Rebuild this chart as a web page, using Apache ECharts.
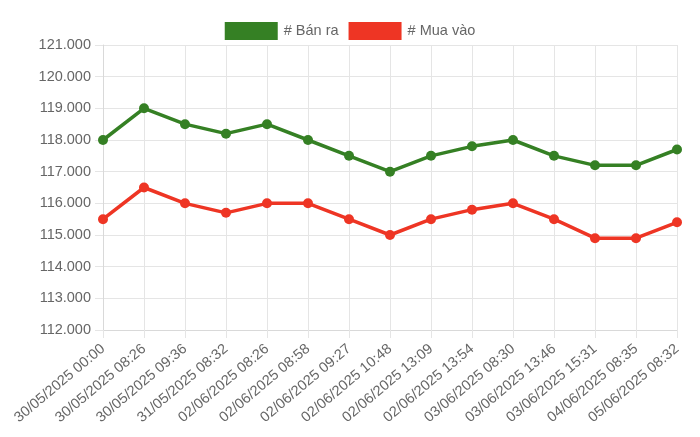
<!DOCTYPE html>
<html>
<head>
<meta charset="utf-8">
<script src="https://cdn.jsdelivr.net/npm/echarts@6/dist/echarts.min.js"></script>
<style>html,body{margin:0;padding:0;background:#fff;}#c{width:700px;height:437px;}</style>
</head>
<body>
<div id="c"></div>
<script>
var categories = ["30/05/2025 00:00","30/05/2025 08:26","30/05/2025 09:36","31/05/2025 08:32","02/06/2025 08:26","02/06/2025 08:58","02/06/2025 09:27","02/06/2025 10:48","02/06/2025 13:09","02/06/2025 13:54","03/06/2025 08:30","03/06/2025 13:46","03/06/2025 15:31","04/06/2025 08:35","05/06/2025 08:32"];
var banRa = [118000,119000,118500,118200,118500,118000,117500,117000,117500,117800,118000,117500,117200,117200,117700];
var muaVao = [115500,116500,116000,115700,116000,116000,115500,115000,115500,115800,116000,115500,114900,114900,115400];
var seriesNames = ["# Bán ra", "# Mua vào"];
var colors = ["#358024", "#ee3524"];

function fmt(v){ return String(v).replace(/\B(?=(\d{3})+(?!\d))/g, "."); }

var chart = echarts.init(document.getElementById('c'));
var font = "'Liberation Sans', Arial, Helvetica, sans-serif";
function mk(name, data, color){
  return {
    name: name, type: 'line', data: data,
    symbol: 'circle', symbolSize: 10,
    itemStyle: {color: color},
    lineStyle: {color: color, width: 3.5},
    emphasis: {disabled: true}
  };
}
chart.setOption({
  animation: false,
  color: colors,
  textStyle: {fontFamily: font},
  legend: {
    top: 17, left: 'center',
    itemWidth: 53, itemHeight: 18, itemGap: 10,
    icon: 'rect',
    textStyle: {color: '#666', fontSize: 14.5, fontFamily: font, padding: [0,0,0,1]},
    data: seriesNames
  },
  grid: {left: 103, right: 23, top: 45, bottom: 107, containLabel: false},
  xAxis: {
    type: 'category', data: categories, boundaryGap: false,
    axisLine: {show: true, lineStyle: {color: '#d9d9d9', width: 1}},
    axisTick: {show: true, length: 8, alignWithLabel: true, lineStyle: {color: '#e5e5e5'}},
    splitLine: {show: true, lineStyle: {color: '#e5e5e5'}},
    axisLabel: {rotate: 40, color: '#666', fontSize: 14.5, fontFamily: font, interval: 0, margin: 17}
  },
  yAxis: {
    type: 'value', min: 112000, max: 121000, interval: 1000,
    axisLine: {show: true, lineStyle: {color: '#d9d9d9'}},
    axisTick: {show: true, length: 8, lineStyle: {color: '#e5e5e5'}},
    splitLine: {show: true, lineStyle: {color: '#e5e5e5'}},
    axisLabel: {color: '#666', fontSize: 14.5, fontFamily: font, margin: 12, formatter: fmt}
  },
  series: [mk(seriesNames[0], banRa, colors[0]), mk(seriesNames[1], muaVao, colors[1])]
});
</script>
</body>
</html>
